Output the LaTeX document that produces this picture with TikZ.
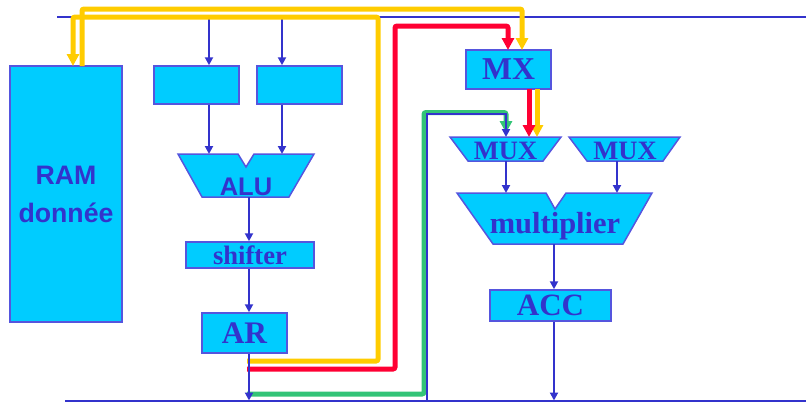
\documentclass[tikz,border=0pt]{standalone}
\usepackage{fontspec}
\setmainfont{Liberation Serif}
\setsansfont{Liberation Sans}
\usetikzlibrary{arrows.meta}
\definecolor{busblue}{RGB}{51,51,204}
\definecolor{regedge}{RGB}{85,85,222}
\definecolor{regfill}{RGB}{0,204,255}
\definecolor{hlyellow}{RGB}{255,204,0}
\definecolor{hlred}{RGB}{255,0,51}
\definecolor{hlgreen}{RGB}{51,196,119}
\tikzset{
  bus/.style={draw=busblue, line width=2pt},
  busarr/.style={bus, -{Triangle[length=8pt,width=8pt]}},
  reg/.style={draw=regedge, fill=regfill, line width=1.5pt, inner sep=0pt, text=busblue, font=\bfseries},
  unit/.style={draw=regedge, fill=regfill, line width=1.5pt},
  lbl/.style={text=busblue, inner sep=0pt, anchor=base},
  hl/.style={line width=5pt, rounded corners=2pt},
  hlarr/.style={hl, -{Triangle[length=12pt,width=12pt]}},
}
\begin{document}
\begin{tikzpicture}[x=1pt, y=-1pt]
  \useasboundingbox (0,0) rectangle (806,402);
  % ---- buses ---------------------------------------------------------------
  \coordinate (topL) at (57,17);   \coordinate (topR) at (806,17);
  \coordinate (botL) at (65,400.5); \coordinate (botR) at (806,400.5);
  \draw[bus] (topL) -- (topR);
  \draw[bus] (botL) -- (botR);

  % ---- left part: RAM, registers, ALU, shifter, AR --------------------------
  \node[reg, minimum width=112pt, minimum height=256pt, align=center,
        font=\sffamily\bfseries\fontsize{26.7}{38}\selectfont] (ram) at (66,194) {RAM\\donnée};
  \node[reg, minimum width=85pt, minimum height=38pt] (rega) at (196.5,85) {};
  \node[reg, minimum width=85pt, minimum height=38pt] (regb) at (299.5,85) {};
  \draw[unit] (178,154) -- (238,154) -- (246,167) -- (254,154) -- (314,154) -- (289,197) -- (202,197) -- cycle;
  \node[lbl, font=\sffamily\bfseries\fontsize{25.5}{30}\selectfont] (alu) at (246,195) {ALU};
  \coordinate (alua) at (209,154);
  \coordinate (alub) at (282,154);
  \coordinate (aluo) at (249,197);
  \node[reg, minimum width=128pt, minimum height=26pt, font=\bfseries\fontsize{26.6}{30}\selectfont] (shifter) at (250,255) {shifter};
  \node[reg, minimum width=85pt, minimum height=40pt, font=\bfseries\fontsize{31.4}{36}\selectfont] (ar) at (244.5,333) {AR};

  % ---- right part: MX, MUX, multiplier, ACC -----------------------------------
  \node[reg, minimum width=85pt, minimum height=39pt, font=\bfseries\fontsize{31.8}{36}\selectfont] (mx) at (508.5,69.5) {MX};
  \draw[unit] (450,137) -- (561,137) -- (543,161) -- (468,161) -- cycle;
  \node[lbl, font=\bfseries\fontsize{26.5}{30}\selectfont] (muxa) at (505.5,159) {MUX};
  \draw[unit] (569,137) -- (680,137) -- (663,161) -- (587,161) -- cycle;
  \node[lbl, font=\bfseries\fontsize{26.5}{30}\selectfont] (muxb) at (625,159) {MUX};
  \draw[unit] (457,193) -- (546,193) -- (555,209) -- (566,193) -- (652,193) -- (623,244) -- (493,244) -- cycle;
  \node[lbl, font=\bfseries\fontsize{30.5}{34}\selectfont] (mult) at (555,233) {multiplier};
  \node[reg, minimum width=121pt, minimum height=31pt, font=\bfseries\fontsize{31}{36}\selectfont] (acc) at (550.5,305.5) {ACC};
  \coordinate (muxain) at (506,137);
  \coordinate (muxaout) at (506,161);
  \coordinate (muxbout) at (617,161);
  \coordinate (multin) at (506,193);
  \coordinate (multout) at (554,244);

  % ---- blue connections -------------------------------------------------------
  \draw[busarr] (alua |- topL) -- (alua |- rega.north);
  \draw[busarr] (alub |- topL) -- (alub |- regb.north);
  \draw[busarr] (alua |- rega.south) -- (alua);
  \draw[busarr] (alub |- regb.south) -- (alub);
  \draw[busarr] (aluo) -- (aluo |- shifter.north);
  \draw[busarr] (aluo |- shifter.south) -- (aluo |- ar.north);
  \draw[busarr] (muxaout) -- (multin);
  \draw[busarr] (muxbout) -- (muxbout |- multin);
  \draw[busarr] (multout) -- (multout |- acc.north);
  \draw[busarr] (multout |- acc.south) -- (multout |- botL);

  % ---- highlighted transfers --------------------------------------------------
  \coordinate (tapy) at (247,361);
  \coordinate (tapr) at (247,369);
  \coordinate (tapg) at (247,394);
  \coordinate (tapb) at (426.5,114);
  \coordinate (ramin) at (73,66);
  \coordinate (ramout) at (82,66);
  \coordinate (mxiny) at (522,50);
  \coordinate (mxinr) at (508,50);
  \coordinate (mxouty) at (537,89);
  \coordinate (mxoutr) at (529,89);
  \draw[hlarr, hlyellow] (tapy) -| (378,17) -| (ramin);
  \draw[hlarr, hlyellow] (ramout) |- (mxiny |- 0,9) -- (mxiny);
  \draw[hlarr, hlred] (tapr) -| (395,26) -| (mxinr);
  \draw[hlarr, hlyellow] (mxouty) -- (mxouty |- muxain);
  \draw[hlarr, hlred] (mxoutr) -- (mxoutr |- muxain);
  \draw[hlarr, hlgreen] (tapg) -| (424,112.5) -| (506,133);
  \draw[busarr] (tapb |- botL) -- (tapb) -| (muxain);
  \draw[busarr] (aluo |- ar.south) -- (aluo |- botL);
\end{tikzpicture}
\end{document}
